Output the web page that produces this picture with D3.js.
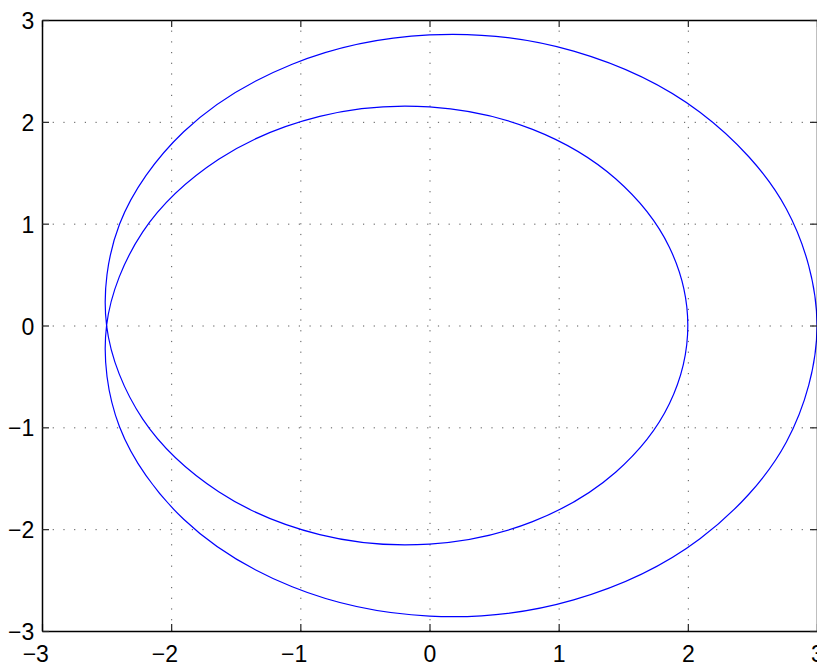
<!DOCTYPE html>
<html>
<head>
<meta charset="utf-8">
<script src="https://cdn.jsdelivr.net/npm/d3@7"></script>
<style>
  body { margin: 0; background: #fff; }
  svg text { font-family: "Liberation Sans", Arial, Helvetica, sans-serif; font-size: 23px; fill: #000; }
</style>
</head>
<body>
<div id="chart"></div>
<script>
// axis ticks
var xTicks = [-3, -2, -1, 0, 1, 2, 3]
var yTicks = [-3, -2, -1, 0, 1, 2, 3]

// one closed curve, in drawing order:
// outer top (right -> left), crossing at (-2.5, 0), inner bottom (left -> right),
// inner top (right -> left), crossing again, outer bottom (left -> right)
var curveX = [3.000, 2.763, 2.094, 1.116, 0.000, -1.063, -1.903, -2.400,
  -2.500, -2.220, -1.632, -0.850, 0.000, 0.798, 1.441, 1.857,
  2.000, 1.857, 1.441, 0.798, 0.000, -0.850, -1.632, -2.220,
  -2.500, -2.400, -1.903, -1.063, 0.000, 1.116, 2.094, 2.763]
var curveY = [0.000, 1.144, 2.094, 2.694, 2.854, 2.566, 1.903, 0.994,
  0.000, -0.919, -1.632, -2.053, -2.146, -1.926, -1.441, -0.769,
  0.000, 0.769, 1.441, 1.926, 2.146, 2.053, 1.632, 0.919,
  0.000, -0.994, -1.903, -2.566, -2.854, -2.694, -2.094, -1.144]

var width = 817, height = 662
var plotLeft = 42, plotRight = 817, plotTop = 20, plotBottom = 631

var x = d3.scaleLinear().domain([-3, 3]).range([plotLeft, plotRight])
var y = d3.scaleLinear().domain([-3, 3]).range([plotBottom, plotTop])
var fmt = d3.format("d")

var svg = d3.select("#chart").append("svg")
  .attr("width", width)
  .attr("height", height)

svg.append("rect").attr("width", width).attr("height", height).attr("fill", "#fff")

// dotted grid
var gx = svg.append("g")
  .attr("transform", "translate(0," + plotBottom + ")")
  .call(d3.axisBottom(x).tickValues(xTicks).tickSize(-(plotBottom - plotTop)).tickFormat(""))
var gy = svg.append("g")
  .attr("transform", "translate(" + plotLeft + ",0)")
  .call(d3.axisLeft(y).tickValues(yTicks).tickSize(-(plotRight - plotLeft)).tickFormat(""))
;[gx, gy].forEach(function(g) {
  g.select(".domain").remove()
  g.selectAll("line")
    .attr("stroke", "#555")
    .attr("stroke-width", 1)
    .attr("stroke-dasharray", "1.2,9.5")
})

// the curve
var line = d3.line()
  .x(function(i) { return x(curveX[i]) })
  .y(function(i) { return y(curveY[i]) })
  .curve(d3.curveCatmullRomClosed.alpha(0.5))

svg.append("path")
  .attr("d", line(d3.range(curveX.length)))
  .attr("fill", "none")
  .attr("stroke", "#0000ff")
  .attr("stroke-width", 1.2)

// box with inward ticks on all four sides
var axB = svg.append("g")
  .attr("transform", "translate(0," + plotBottom + ")")
  .call(d3.axisBottom(x).tickValues(xTicks).tickFormat(fmt).tickSizeInner(-7).tickSizeOuter(0).tickPadding(14.4))
var axT = svg.append("g")
  .attr("transform", "translate(0," + plotTop + ")")
  .call(d3.axisTop(x).tickValues(xTicks).tickSizeInner(-7).tickSizeOuter(0).tickFormat(""))
var axL = svg.append("g")
  .attr("transform", "translate(" + plotLeft + ",0)")
  .call(d3.axisLeft(y).tickValues(yTicks).tickFormat(fmt).tickSizeInner(-7).tickSizeOuter(0).tickPadding(7.7))
var axR = svg.append("g")
  .attr("transform", "translate(" + plotRight + ",0)")
  .call(d3.axisRight(y).tickValues(yTicks).tickSizeInner(-7).tickSizeOuter(0).tickFormat(""))

;[axB, axT, axL, axR].forEach(function(g) {
  g.attr("font-size", null).attr("font-family", null)
  g.select(".domain").attr("stroke", "#000").attr("stroke-width", 1.5)
  g.selectAll(".tick line").attr("stroke", "#222").attr("stroke-width", 1.2)
})

// x labels: digit sits centred on the tick, minus sign hangs to the left
axB.selectAll(".tick text")
  .attr("text-anchor", "end")
  .attr("x", 6.4)
axL.selectAll(".tick text").attr("dy", "0.37em")
</script>
</body>
</html>
